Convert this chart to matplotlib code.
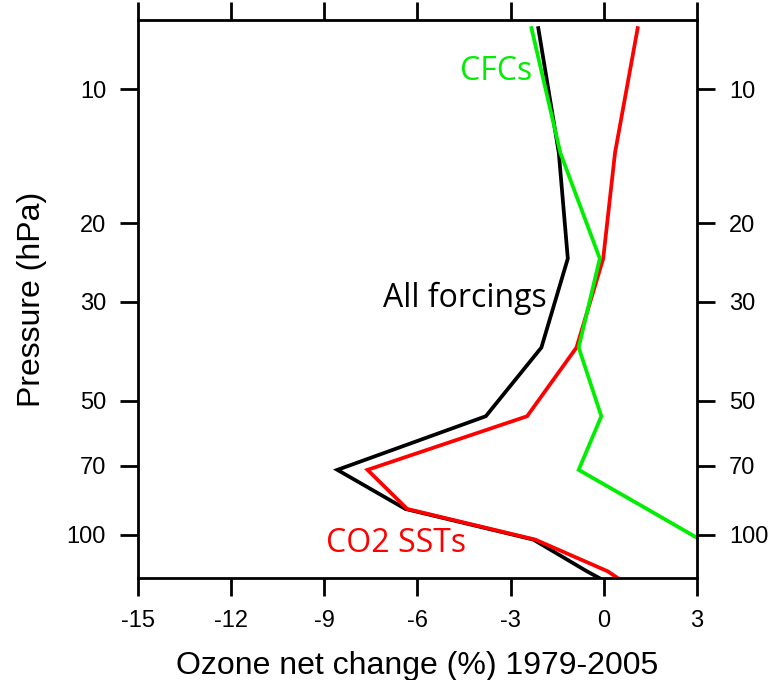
import matplotlib
matplotlib.use("Agg")
import matplotlib.pyplot as plt
import matplotlib.ticker as mticker
import numpy as np

# model levels (hPa) and ozone change (%) per experiment
levels = [7.3, 13.9, 24.0, 38.0, 54.2, 71.5, 87.5, 102.5, 120.7, 143.0]
all_forcings = [-2.11, -1.45, -1.16, -2.01, -3.80, -8.58, -6.39, -2.27, -0.55, 1.40]
co2_ssts = [1.09, 0.36, -0.02, -0.88, -2.47, -7.61, -6.33, -2.21, 0.12, 1.70]
cfcs = [-2.33, -1.40, -0.13, -0.81, -0.08, -0.81, 1.39, 3.10, np.nan, np.nan]

xticks = [-15, -12, -9, -6, -3, 0, 3]
yticks = [10, 20, 30, 50, 70, 100]

green = '#00ee00'

fig = plt.figure(figsize=(7.76, 6.8), dpi=100)
ax = fig.add_axes([138/776, 1 - 578/680, (697-138)/776, (578-20)/680])

ax.plot(all_forcings, levels, color='black', lw=2.7, solid_joinstyle='miter')
ax.plot(co2_ssts, levels, color='red', lw=2.7, solid_joinstyle='miter')
ax.plot(cfcs, levels, color=green, lw=2.7, solid_joinstyle='miter')

ax.set_yscale('log')
ax.set_ylim(125, 7.0)
ax.set_xlim(-15, 3)
ax.set_xticks(xticks)
ax.set_xticklabels([str(t) for t in xticks])
ax.yaxis.set_major_locator(mticker.FixedLocator(yticks))
ax.yaxis.set_major_formatter(mticker.FixedFormatter([str(t) for t in yticks]))
ax.yaxis.set_minor_locator(mticker.NullLocator())

for s in ax.spines.values():
    s.set_linewidth(2)
ax.tick_params(which='major', direction='out', length=13, width=2,
               labelsize=17, top=True, right=True, labelright=True, pad=10)
for lab in ax.get_xticklabels() + ax.get_yticklabels():
    lab.set_family('Liberation Sans')

ax.set_xlabel('Ozone net change (%) 1979-2005', fontsize=23,
              family='Liberation Sans', labelpad=14)
ax.set_ylabel('Pressure (hPa)', fontsize=23, family='Liberation Sans', labelpad=14)

ax.text(-4.64, 9.54, 'CFCs', color=green, fontsize=23, family='Open Sans',
        ha='left', va='baseline')
ax.text(-7.12, 30.8, 'All forcings', color='black', fontsize=23, family='Open Sans',
        ha='left', va='baseline')
ax.text(-8.95, 109.3, 'CO2 SSTs', color='red', fontsize=23, family='Open Sans',
        ha='left', va='baseline')

fig.savefig('out.png', dpi=100)
